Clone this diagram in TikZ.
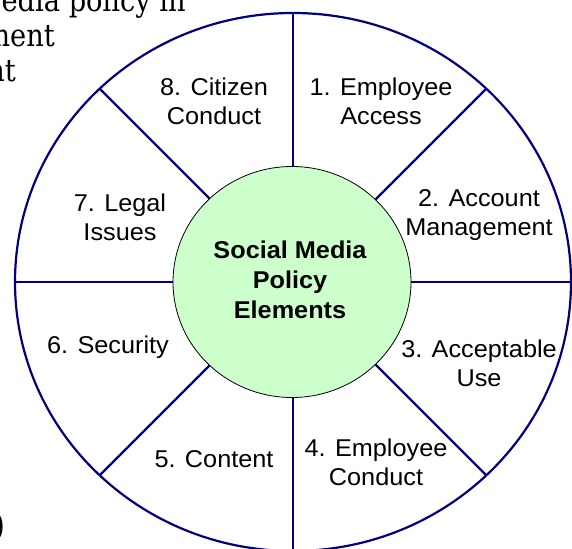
\documentclass[tikz,border=0pt]{standalone}
\usepackage{fontspec}
\setmainfont{Liberation Sans}[FakeStretch=1.04]
\newfontfamily\bodyserif{DejaVu Serif}[FakeStretch=0.88]
\usetikzlibrary{shapes.geometric}
\definecolor{spoke}{RGB}{0,0,128}
\definecolor{hub}{RGB}{204,255,204}
\begin{document}
\begin{tikzpicture}[x=1pt,y=-1pt,
  lab/.style={align=center,font=\fontsize{24.3}{29}\selectfont,inner sep=0pt},
  ring/.style={ellipse,draw=spoke,line width=2.2pt,inner sep=0pt,outer sep=0pt},
  spk/.style={draw=spoke,line width=2.2pt},
  hubnode/.style={ellipse,draw=black,line width=0.8pt,fill=hub,inner sep=0pt,outer sep=0pt},
  bodytext/.style={font=\bodyserif\fontsize{31}{35}\selectfont,inner sep=0pt,anchor=base east}]
\useasboundingbox (0,0) rectangle (572,548);
\clip (0,0) rectangle (572,548);
% clipped surrounding document text
\node[bodytext] (t1) at (186,12) {edia policy in};
\node[bodytext] (t2) at (55,47) {ment};
\node[bodytext] (t3) at (16,82) {nt};
\node[font=\bodyserif\fontsize{37}{40}\selectfont,inner sep=0pt,anchor=base east] (t4) at (5.5,540) {0};
% wheel
\node[ring,minimum width=556pt,minimum height=538pt] (rim) at (293,282) {};
\foreach \a in {0,45,...,315} \draw[spk] (rim.center) -- (rim.\a);
\node[hubnode,minimum width=238pt,minimum height=231pt] (core) at (292,282) {};
\node[align=center,inner sep=0pt,font=\bfseries\fontsize{24.3}{30}\selectfont] (coretext) at (290,280) {Social Media\\Policy\\Elements};
% labels
\node[lab] (l8) at (214,101) {8. Citizen\\Conduct};
\node[lab] (l1) at (381,101) {1. Employee\\Access};
\node[lab] (l2) at (479,215) {2. Account\\Management};
\node[lab] (l7) at (120,217) {7. Legal\\Issues};
\node[lab] (l6) at (108,347) {6. Security};
\node[lab] (l3) at (479,363) {3. Acceptable\\Use};
\node[lab] (l5) at (214,459) {5. Content};
\node[lab] (l4) at (376,462) {4. Employee\\Conduct};
\end{tikzpicture}
\end{document}
